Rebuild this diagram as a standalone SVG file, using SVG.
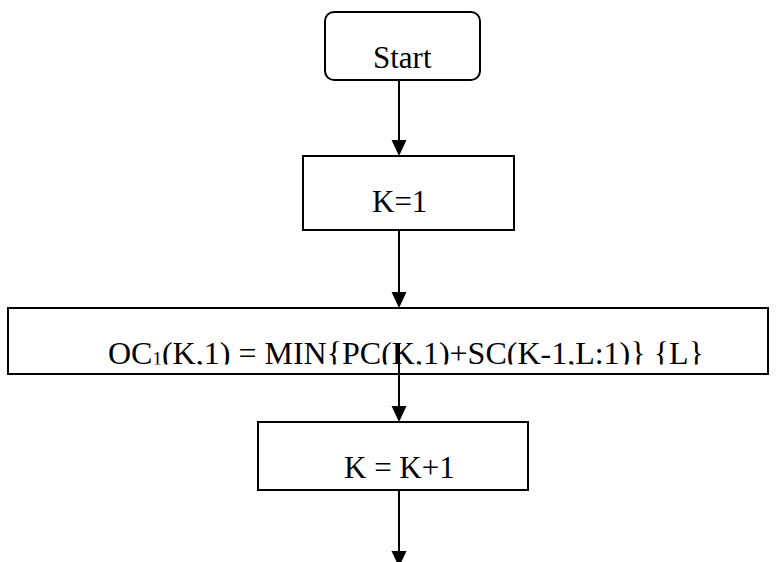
<svg xmlns="http://www.w3.org/2000/svg" width="776" height="562" viewBox="0 0 776 562">
<style>
.box{fill:#fff;stroke:#000;stroke-width:2}
.t{font-family:"Liberation Serif","Times New Roman",serif;font-size:31px;fill:#000}
.big{font-size:32px}
.sub{font-size:19px}
.ln{stroke:#000;stroke-width:2;fill:none}
.hd{fill:#000}
</style>
<defs>
<clipPath id="clipBig"><rect x="0" y="300" width="776" height="64.5"/></clipPath>
</defs>
<rect width="776" height="562" fill="#fff"/>
<g id="start">
<rect class="box" x="325" y="12" width="155" height="68" rx="9"/>
<text class="t" x="373" y="68">Start</text>
</g>
<g id="k1">
<rect class="box" x="303" y="156" width="211" height="74"/>
<text class="t" x="372" y="212">K=1</text>
</g>
<g id="oc">
<rect class="box" x="8" y="308" width="760" height="66"/>
<text class="t big" x="108" y="364" clip-path="url(#clipBig)">OC<tspan class="sub" dy="1">1</tspan><tspan dy="-1">(K,1) = MIN{PC(K,1)+SC(K-1,L:1)} {L}</tspan></text>
</g>
<g id="kinc">
<rect class="box" x="258" y="422" width="270" height="68"/>
<text class="t" x="344" y="478">K = K+1</text>
</g>
<g id="connectors">
<line class="ln" x1="399" y1="80" x2="399" y2="142"/>
<polygon class="hd" points="391.5,140 406.5,140 399,156"/>
<line class="ln" x1="399" y1="230" x2="399" y2="294"/>
<polygon class="hd" points="391.5,292 406.5,292 399,308"/>
<line class="ln" x1="399" y1="344" x2="399" y2="408"/>
<polygon class="hd" points="391.5,406 406.5,406 399,422"/>
<line class="ln" x1="399" y1="490" x2="399" y2="553"/>
<polygon class="hd" points="391.5,551 406.5,551 399,567"/>
</g>
</svg>
